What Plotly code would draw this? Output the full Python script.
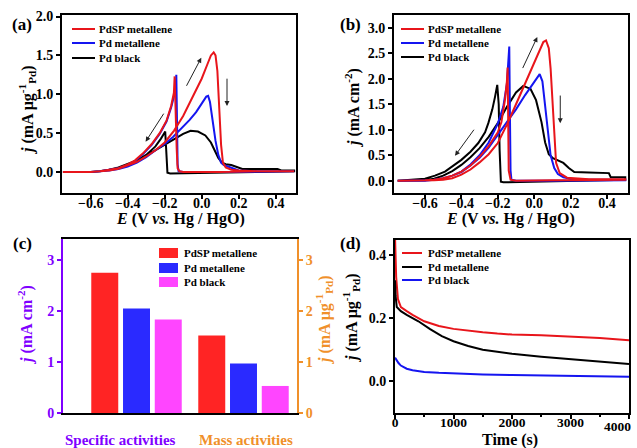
import plotly.graph_objects as go

W, H = 637, 448

# ---------------- Panel (a): CV, mass activity (mA ug^-1 Pd) ----------------
a_red_fwd_E = [-0.75, -0.6, -0.55, -0.5, -0.45, -0.4, -0.35, -0.3, -0.25, -0.2, -0.15, -0.1, -0.05, 0.0, 0.03, 0.05, 0.065, 0.075, 0.085, 0.095, 0.105, 0.115, 0.13, 0.16, 0.2, 0.3, 0.4, 0.5]
a_red_fwd_j = [0.0, 0.0, 0.01, 0.02, 0.04, 0.08, 0.13, 0.2, 0.28, 0.38, 0.53, 0.72, 0.95, 1.2, 1.38, 1.5, 1.54, 1.50, 1.30, 0.85, 0.35, 0.12, 0.06, 0.03, 0.02, 0.01, 0.01, 0.01]
a_red_bwd_E = [0.5, 0.3, 0.1, 0.0, -0.1, -0.12, -0.13, -0.135, -0.14, -0.146, -0.15, -0.165, -0.19, -0.227, -0.27, -0.317, -0.36, -0.407, -0.45, -0.5, -0.55, -0.6, -0.75]
a_red_bwd_j = [0.01, 0.01, 0.0, 0.0, 0.0, 0.01, 0.05, 0.3, 0.9, 1.23, 1.02, 0.85, 0.66, 0.5, 0.36, 0.24, 0.15, 0.09, 0.05, 0.03, 0.01, 0.0, 0.0]

a_blue_fwd_E = [-0.75, -0.6, -0.55, -0.5, -0.45, -0.4, -0.35, -0.3, -0.25, -0.2, -0.155, -0.1, -0.065, -0.03, 0.0, 0.025, 0.035, 0.045, 0.06, 0.075, 0.09, 0.105, 0.12, 0.15, 0.2, 0.3, 0.5]
a_blue_fwd_j = [0.0, 0.0, 0.01, 0.02, 0.04, 0.07, 0.12, 0.19, 0.28, 0.36, 0.45, 0.58, 0.67, 0.77, 0.88, 0.97, 0.98, 0.9, 0.65, 0.4, 0.22, 0.12, 0.09, 0.06, 0.02, 0.01, 0.01]
a_blue_bwd_E = [0.5, 0.1, 0.0, -0.1, -0.125, -0.13, -0.133, -0.137, -0.14, -0.15, -0.165, -0.19, -0.227, -0.27, -0.317, -0.36, -0.407, -0.45, -0.5, -0.55, -0.6, -0.75]
a_blue_bwd_j = [0.01, 0.0, 0.0, 0.0, 0.01, 0.1, 0.6, 1.25, 1.1, 0.97, 0.83, 0.65, 0.49, 0.35, 0.23, 0.14, 0.08, 0.05, 0.03, 0.01, 0.0, 0.0]

a_black_fwd_E = [-0.75, -0.6, -0.55, -0.5, -0.45, -0.4, -0.35, -0.3, -0.25, -0.2, -0.15, -0.1, -0.06, -0.02, 0.02, 0.05, 0.07, 0.09, 0.11, 0.13, 0.16, 0.19, 0.22, 0.3, 0.41, 0.43, 0.5]
a_black_fwd_j = [0.0, 0.0, 0.01, 0.03, 0.06, 0.1, 0.15, 0.21, 0.28, 0.35, 0.42, 0.49, 0.53, 0.52, 0.47, 0.38, 0.28, 0.18, 0.12, 0.1, 0.09, 0.06, 0.04, 0.04, 0.04, 0.02, 0.02]
a_black_bwd_E = [0.5, 0.3, 0.0, -0.1, -0.15, -0.17, -0.185, -0.19, -0.193, -0.197, -0.205, -0.22, -0.25, -0.3, -0.35, -0.4, -0.45, -0.5, -0.55, -0.6, -0.75]
a_black_bwd_j = [0.01, 0.0, -0.01, -0.02, -0.02, -0.02, -0.01, 0.25, 0.45, 0.52, 0.49, 0.43, 0.33, 0.22, 0.15, 0.1, 0.06, 0.03, 0.01, 0.0, 0.0]

# ---------------- Panel (b): CV, specific activity (mA cm^-2) ----------------
b_red_fwd_E = [-0.75, -0.6, -0.55, -0.5, -0.45, -0.4, -0.35, -0.3, -0.25, -0.2, -0.15, -0.1, -0.05, 0.0, 0.03, 0.05, 0.065, 0.08, 0.09, 0.1, 0.11, 0.12, 0.14, 0.18, 0.3, 0.5]
b_red_fwd_j = [0.0, 0.0, 0.01, 0.02, 0.05, 0.12, 0.22, 0.36, 0.52, 0.74, 1.1, 1.5, 1.9, 2.3, 2.55, 2.72, 2.75, 2.6, 2.2, 1.5, 0.8, 0.35, 0.15, 0.06, 0.03, 0.03]
b_red_bwd_E = [0.5, 0.1, 0.0, -0.1, -0.13, -0.14, -0.143, -0.146, -0.15, -0.16, -0.18, -0.2, -0.25, -0.3, -0.35, -0.4, -0.45, -0.5, -0.55, -0.6, -0.75]
b_red_bwd_j = [0.02, 0.01, 0.0, 0.0, 0.02, 0.2, 1.2, 2.22, 1.95, 1.6, 1.15, 0.95, 0.68, 0.47, 0.3, 0.18, 0.1, 0.05, 0.02, 0.01, 0.0]

b_blue_fwd_E = [-0.75, -0.6, -0.55, -0.5, -0.45, -0.4, -0.35, -0.3, -0.25, -0.2, -0.15, -0.1, -0.05, 0.0, 0.02, 0.03, 0.045, 0.06, 0.075, 0.09, 0.11, 0.13, 0.16, 0.2, 0.3, 0.5]
b_blue_fwd_j = [0.0, 0.0, 0.02, 0.05, 0.1, 0.17, 0.3, 0.45, 0.65, 0.9, 1.15, 1.4, 1.68, 1.95, 2.06, 2.09, 1.95, 1.45, 0.9, 0.5, 0.25, 0.13, 0.07, 0.04, 0.02, 0.02]
b_blue_bwd_E = [0.5, 0.1, 0.0, -0.1, -0.125, -0.13, -0.134, -0.137, -0.15, -0.17, -0.2, -0.25, -0.3, -0.35, -0.4, -0.45, -0.5, -0.55, -0.6, -0.75]
b_blue_bwd_j = [0.01, 0.0, 0.0, 0.0, 0.02, 0.2, 1.5, 2.63, 1.9, 1.45, 1.12, 0.75, 0.5, 0.32, 0.18, 0.1, 0.05, 0.02, 0.01, 0.0]

b_black_fwd_E = [-0.75, -0.6, -0.55, -0.5, -0.45, -0.4, -0.35, -0.3, -0.25, -0.2, -0.15, -0.1, -0.06, -0.02, 0.01, 0.04, 0.06, 0.08, 0.1, 0.13, 0.16, 0.19, 0.22, 0.3, 0.4, 0.41, 0.42, 0.5]
b_black_fwd_j = [0.0, 0.01, 0.04, 0.1, 0.19, 0.31, 0.46, 0.64, 0.86, 1.13, 1.45, 1.73, 1.86, 1.8, 1.58, 1.15, 0.75, 0.52, 0.45, 0.4, 0.35, 0.25, 0.17, 0.16, 0.16, 0.15, 0.07, 0.07]
b_black_bwd_E = [0.5, 0.2, 0.0, -0.1, -0.17, -0.183, -0.19, -0.195, -0.203, -0.215, -0.23, -0.252, -0.27, -0.307, -0.35, -0.4, -0.45, -0.49, -0.545, -0.6, -0.75]
b_black_bwd_j = [0.02, 0.0, -0.02, -0.03, -0.03, -0.02, 0.6, 1.5, 1.88, 1.65, 1.4, 1.13, 0.95, 0.74, 0.57, 0.41, 0.28, 0.18, 0.1, 0.04, 0.0]

# ---------------- Panel (c): activities bar chart ----------------
c_groups = ["Specific activities", "Mass activities"]
c_names = ["PdSP metallene", "Pd metallene", "Pd black"]
c_specific = [2.75, 2.05, 1.83]   # mA cm^-2
c_mass = [1.52, 0.97, 0.53]       # mA ug^-1 Pd

# ---------------- Panel (d): chronoamperometry ----------------
d_red_t = [0, 20, 50, 100, 200, 300, 500, 750, 1000, 1250, 1500, 1750, 2000, 2500, 3000, 3500, 4000]
d_red_j = [0.46, 0.33, 0.26, 0.235, 0.222, 0.21, 0.19, 0.175, 0.166, 0.16, 0.155, 0.151, 0.148, 0.146, 0.142, 0.137, 0.13]
d_black_t = [0, 10, 30, 60, 100, 200, 400, 600, 800, 1000, 1250, 1500, 2000, 2500, 3000, 3500, 4000]
d_black_j = [0.32, 0.27, 0.235, 0.228, 0.222, 0.21, 0.19, 0.165, 0.143, 0.127, 0.112, 0.1, 0.087, 0.078, 0.07, 0.062, 0.055]
d_blue_t = [0, 30, 60, 100, 200, 300, 500, 750, 1000, 1500, 2000, 2500, 3000, 3500, 4000]
d_blue_j = [0.075, 0.065, 0.058, 0.05, 0.04, 0.035, 0.03, 0.027, 0.025, 0.022, 0.02, 0.019, 0.018, 0.016, 0.015]
d_ticks = [0, 1000, 2000, 3000, 4000]

RED = "#e8151b"
BLUE = "#1515f0"
BLACK = "#000000"
BAR_RED = "#ff2424"
BAR_BLUE = "#2a2aff"
BAR_MAG = "#ff45ff"
PURPLE = "#7f00ff"
ORANGE = "#f0902a"
FONT = "Liberation Serif"


def px(x):
    return x / W


def py(y):
    return 1 - y / H


fig = go.Figure()

# (a)
for E1, j1, E2, j2, col, nm in [
    (a_black_fwd_E, a_black_fwd_j, a_black_bwd_E, a_black_bwd_j, BLACK, "Pd black"),
    (a_blue_fwd_E, a_blue_fwd_j, a_blue_bwd_E, a_blue_bwd_j, BLUE, "Pd metallene"),
    (a_red_fwd_E, a_red_fwd_j, a_red_bwd_E, a_red_bwd_j, RED, "PdSP metallene"),
]:
    fig.add_trace(go.Scatter(x=E1 + E2, y=j1 + j2, mode="lines", name=nm, showlegend=False,
                             line=dict(color=col, width=2), xaxis="x", yaxis="y"))
# (b)
for E1, j1, E2, j2, col, nm in [
    (b_black_fwd_E, b_black_fwd_j, b_black_bwd_E, b_black_bwd_j, BLACK, "Pd black"),
    (b_blue_fwd_E, b_blue_fwd_j, b_blue_bwd_E, b_blue_bwd_j, BLUE, "Pd metallene"),
    (b_red_fwd_E, b_red_fwd_j, b_red_bwd_E, b_red_bwd_j, RED, "PdSP metallene"),
]:
    fig.add_trace(go.Scatter(x=E1 + E2, y=j1 + j2, mode="lines", name=nm, showlegend=False,
                             line=dict(color=col, width=2), xaxis="x2", yaxis="y2"))
# (c)
bar_cols = [BAR_RED, BAR_BLUE, BAR_MAG]
for i, nm in enumerate(c_names):
    fig.add_trace(go.Bar(x=[c_groups[0]], y=[c_specific[i]], name=nm, showlegend=False,
                         marker=dict(color=bar_cols[i], line=dict(width=0)),
                         offsetgroup=str(i), alignmentgroup="c", xaxis="x3", yaxis="y3"))
    fig.add_trace(go.Bar(x=[c_groups[1]], y=[c_mass[i]], name=nm, showlegend=False,
                         marker=dict(color=bar_cols[i], line=dict(width=0)),
                         offsetgroup=str(i), alignmentgroup="c", xaxis="x3", yaxis="y5"))
# (d)
for t, j, col, nm in [
    (d_red_t, d_red_j, RED, "PdSP metallene"),
    (d_black_t, d_black_j, BLACK, "Pd metallene"),
    (d_blue_t, d_blue_j, BLUE, "Pd black"),
]:
    fig.add_trace(go.Scatter(x=t, y=j, mode="lines", name=nm, showlegend=False,
                             line=dict(color=col, width=2), xaxis="x4", yaxis="y4"))

ax_common = dict(showline=True, linecolor="black", linewidth=2, mirror=True, ticks="outside",
                 ticklen=4, tickwidth=1.5, tickcolor="black", showgrid=False, zeroline=False,
                 automargin=False,
                 tickfont=dict(size=14, family=FONT, weight="bold", color="black"))
x_extra = dict(ticklabelstandoff=-8)

dom_a_x = [px(62), px(296)]
dom_b_x = [px(394), px(628)]
dom_top_y = [py(193), py(15)]
dom_c_x = [px(63), px(297)]
dom_d_x = [px(395), px(629)]
dom_bot_y = [py(413), py(240)]
dom_c_y = [py(413), py(239)]

mu_title = "<i>j</i> (mA μg<sup>-1</sup><sub>Pd</sub>)"
cm_title = "<i>j</i> (mA cm<sup>-2</sup>)"
E_title = "<i>E</i> (V <i>vs.</i> Hg / HgO)"

fig.update_layout(
    width=W, height=H, margin=dict(l=0, r=0, t=0, b=0, autoexpand=False),
    paper_bgcolor="white", plot_bgcolor="white",
    font=dict(family=FONT, size=14, color="black", weight="bold"),
    barmode="group", bargap=0.11, bargroupgap=0.15,
    xaxis=dict(ax_common, **x_extra, domain=dom_a_x, anchor="y", range=[-0.755, 0.51],
               tickvals=[-0.6, -0.4, -0.2, 0.0, 0.2, 0.4], tickformat=".1f"),
    yaxis=dict(ax_common, domain=dom_top_y, anchor="x", range=[-0.27, 2.02], dtick=0.5, tickformat=".1f"),
    xaxis2=dict(ax_common, **x_extra, domain=dom_b_x, anchor="y2", range=[-0.77, 0.515],
                tickvals=[-0.6, -0.4, -0.2, 0.0, 0.2, 0.4], tickformat=".1f"),
    yaxis2=dict(ax_common, domain=dom_top_y, anchor="x2", range=[-0.24, 3.25], dtick=0.5, tickformat=".1f"),
    xaxis3=dict(ax_common, domain=dom_c_x, anchor="y3", type="category", range=[-0.687, 1.5],
                ticks="", showticklabels=False),
    yaxis3=dict(ax_common, domain=dom_c_y, anchor="x3", range=[0, 3.41], dtick=1, mirror=False,
                linecolor=PURPLE, tickcolor=PURPLE,
                tickfont=dict(size=14, family=FONT, weight="bold", color=PURPLE)),
    yaxis5=dict(ax_common, overlaying="y3", side="right", anchor="x3", range=[0, 3.41], dtick=1, mirror=False,
                linecolor=ORANGE, tickcolor=ORANGE,
                tickfont=dict(size=14, family=FONT, weight="bold", color=ORANGE)),
    xaxis4=dict(ax_common, **x_extra, domain=dom_d_x, anchor="y4", range=[0, 4000],
                tickvals=d_ticks, ticktext=[str(v) for v in d_ticks[:-1]] + [" "],
                minor=dict(ticks="outside", dtick=500, ticklen=2, tickcolor="black"),
                tickfont=dict(size=13.5, family=FONT, weight="bold", color="black")),
    yaxis4=dict(ax_common, domain=dom_bot_y, anchor="x4", range=[-0.1, 0.447], dtick=0.2, tickformat=".1f"),
)

ann = []
shapes = []


def text(t, x, y, size=16, color="black", angle=0, xanchor="center"):
    ann.append(dict(text=t, x=px(x), y=py(y), xref="paper", yref="paper", showarrow=False,
                    xanchor=xanchor, yanchor="middle", textangle=angle,
                    font=dict(size=size, family=FONT, weight="bold", color=color)))


# panel labels
for lab, x, y in [("(a)", 22, 25), ("(b)", 351, 25), ("(c)", 22, 243), ("(d)", 351, 243)]:
    text(lab, x, y, size=17)

# axis titles
text(E_title, 180, 219)
text(mu_title, 27, 110, angle=-90)
text(E_title, 510, 219)
text(cm_title, 352, 108, angle=-90)
text(cm_title, 25, 325, color=PURPLE, angle=-90)
text(mu_title, 324, 320, color=ORANGE, angle=-90)
text(mu_title, 351, 318, angle=-90)
text("Time (s)", 510, 440)
text("4000", 617, 426, size=13.5)

# manual legends (line swatches + text)
def line_legend(x0, x1, xt, ys, names, cols):
    for y, nm, col in zip(ys, names, cols):
        shapes.append(dict(type="line", xref="paper", yref="paper", x0=px(x0), x1=px(x1), y0=py(y), y1=py(y),
                           line=dict(color=col, width=2)))
        text(nm, xt, y, size=11, xanchor="left")

line_legend(72, 95, 97, [29, 43, 58], ["PdSP metallene", "Pd metallene", "Pd black"], [RED, BLUE, BLACK])
line_legend(401, 424, 426, [29, 43, 57], ["PdSP metallene", "Pd metallene", "Pd black"], [RED, BLUE, BLACK])
line_legend(402, 422, 426, [253, 267, 280], ["PdSP metallene", "Pd metallene", "Pd black"], [RED, BLACK, BLUE])
for y, nm, col in zip([253, 268, 282], c_names, bar_cols):
    shapes.append(dict(type="rect", xref="paper", yref="paper", x0=px(159), x1=px(178), y0=py(y + 5), y1=py(y - 5),
                       fillcolor=col, line=dict(width=0)))
    text(nm, 182, y, size=11, xanchor="left")

# category labels for (c)
text("Specific activities", 120, 440, size=15, color=PURPLE)
text("Mass activities", 246, 440, size=15, color=ORANGE)

# scan-direction arrows
def arrow(xr, yr, x0, y0, x1, y1):
    ann.append(dict(text="", xref=xr, yref=yr, axref=xr, ayref=yr, x=x1, y=y1, ax=x0, ay=y0,
                    showarrow=True, arrowhead=2, arrowsize=1, arrowwidth=1, arrowcolor="#222"))

arrow("x", "y", -0.2, 0.77, -0.303, 0.39)
arrow("x", "y", -0.086, 1.09, -0.002, 1.47)
arrow("x", "y", 0.137, 1.22, 0.137, 0.85)
arrow("x2", "y2", -0.325, 1.03, -0.435, 0.49)
arrow("x2", "y2", -0.067, 2.18, 0.017, 2.82)
arrow("x2", "y2", 0.143, 1.7, 0.143, 1.13)

fig.update_layout(annotations=ann, shapes=shapes)

fig.write_html("out.html", config={"displayModeBar": False},
               post_script="document.body.style.margin='0';document.body.style.padding='0';")
